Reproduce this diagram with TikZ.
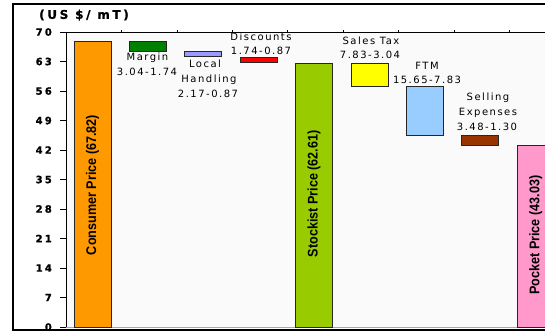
\documentclass[tikz,border=0pt]{standalone}
\usepackage{fontspec}
\setmainfont{DejaVu Sans}
\newfontfamily\notefont[LetterSpace=15]{DejaVu Sans}
\newfontfamily\axisfont[LetterSpace=22,FakeBold=1.2]{DejaVu Sans}
\newfontfamily\barfont{Liberation Sans}
\usetikzlibrary{positioning}
\definecolor{consumerorange}{RGB}{255,153,0}
\definecolor{margingreen}{RGB}{0,128,0}
\definecolor{handlingblue}{RGB}{153,153,255}
\definecolor{discountred}{RGB}{255,0,0}
\definecolor{stockistgreen}{RGB}{153,204,0}
\definecolor{taxyellow}{RGB}{255,255,0}
\definecolor{ftmblue}{RGB}{153,204,255}
\definecolor{sellingbrown}{RGB}{153,51,0}
\definecolor{pocketpink}{RGB}{255,153,204}

\begin{document}
\begin{tikzpicture}[x=1pt, y=4.214pt,
    barstyle/.style={draw=black!85, line width=0.8pt},
    notelabel/.style={font=\notefont\fontsize{10}{12}\selectfont, inner sep=0pt},
    pricelabel/.style={rotate=90, font=\barfont\bfseries\fontsize{14}{16}\selectfont, inner sep=0pt},
    ticklabel/.style={font=\axisfont\bfseries\fontsize{10}{12}\selectfont, anchor=east, inner sep=0pt}]
        \clip (0,-1.424) rectangle (545,77.6);
        \fill[white] (0,-1.424) rectangle (545,77.6);
        % frame and plot area
        \draw[line width=1.2pt] (546,-0.71) -- (13,-0.71) -- (13,76.65) -- (546,76.65);
        \fill[black!2] (66,0) rectangle (546,70);
        \draw[gray!70] (66,0) -- (546,0);
        \draw[line width=0.9pt] (66,0) -- (66,70) -- (546,70);
        \foreach \k in {1,...,8}
            \draw (66+55.4*\k,70) -- ++(0,0.4);
        \foreach \v in {0,7,...,70} {
            \draw (60,\v) -- (66,\v);
            \node[ticklabel] (yl\v) at (52,\v) {\v};
        }
        \node[font=\axisfont\bfseries\fontsize{12}{14}\selectfont, inner sep=0pt] (unit) at (84,74) {(US \$/ mT)};
        % bars
        \foreach \k/\lo/\hi/\col in {0/0/67.82/consumerorange, 1/65.5/67.7/margingreen,
                2/64.2/65.3/handlingblue, 3/62.8/63.9/discountred, 4/0/62.61/stockistgreen,
                5/57.2/62.6/taxyellow, 6/45.5/57.0/ftmblue, 7/43.0/45.5/sellingbrown,
                8/0/43.03/pocketpink}
            \draw[barstyle, fill=\col] ({74+55.4*\k},\lo) rectangle ({111+55.4*\k},\hi);
        \node[pricelabel] (consumer) at (92.5,33.7) {\scalebox{0.9}[1]{Consumer Price (67.82)}};
        \node[pricelabel] (stockist) at (314.1,31.6) {\scalebox{0.9}[1]{Stockist Price (62.61)}};
        \node[pricelabel] (pocket) at (535.7,21.8) {\scalebox{0.9}[1]{Pocket Price (43.03)}};
        % cost labels
        \node[notelabel] (margin) at (147.5,63.8) {Margin};
        \node[notelabel] (marginval) at (147,60.5) {3.04-1.74};
        \node[notelabel] (local) at (205,62.4) {Local};
        \node[notelabel] (handling) at (209,58.6) {Handling};
        \node[notelabel] (handlingval) at (208,55.3) {2.17-0.87};
        \node[notelabel] (discounts) at (261,68.8) {Discounts};
        \node[notelabel] (discountsval) at (261,65.5) {1.74-0.87};
        \node[notelabel] (salestax) at (371,67.9) {Sales Tax};
        \node[notelabel] (salestaxval) at (370,64.5) {7.83-3.04};
        \node[notelabel] (ftm) at (427,61.9) {FTM};
        \node[notelabel] (ftmval) at (427,58.6) {15.65-7.83};
        \node[notelabel] (selling) at (488,54.3) {Selling};
        \node[notelabel] (expenses) at (488,50.8) {Expenses};
        \node[notelabel] (sellingval) at (487,47.5) {3.48-1.30};
    \end{tikzpicture}
\end{document}
